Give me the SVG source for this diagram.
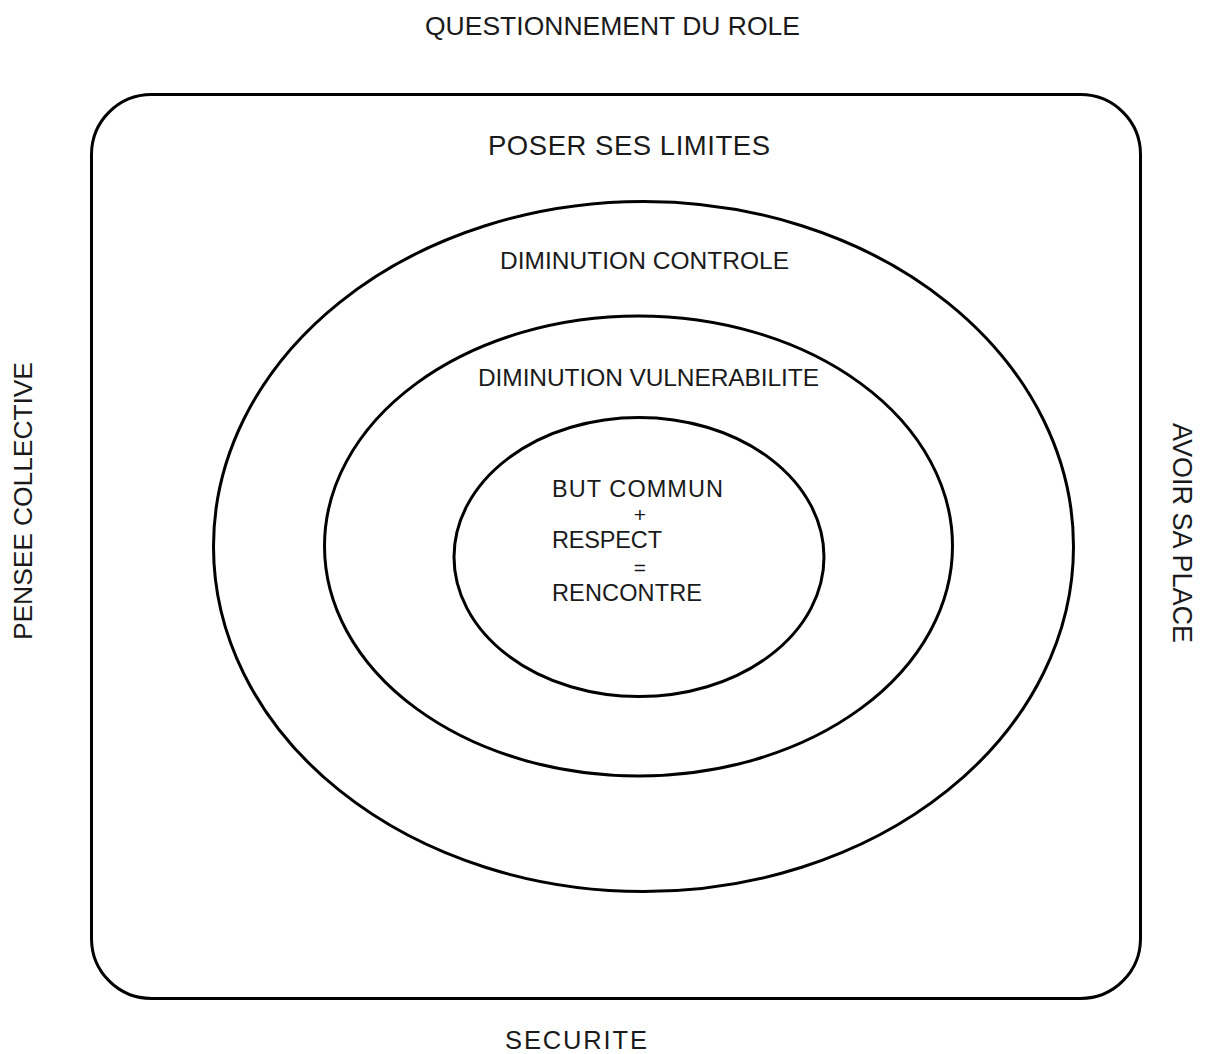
<svg xmlns="http://www.w3.org/2000/svg" width="1208" height="1054" viewBox="0 0 1208 1054">
<style>
.s{fill:none;stroke:#000;stroke-width:3}
text{font-family:"Liberation Sans",Arial,sans-serif;fill:#1a1a1a}
.c{font-size:23.5px}
.o{font-size:21px}
</style>
<rect width="1208" height="1054" fill="#fff"/>
<g id="frame">
<rect class="s" x="91.5" y="94.5" width="1049" height="904" rx="60" ry="60"/>
<text x="488" y="155" font-size="27.5" textLength="282">POSER SES LIMITES</text>
</g>
<g id="outer">
<ellipse class="s" cx="643.5" cy="546.5" rx="430" ry="345"/>
<text x="500" y="269" font-size="24.5" textLength="289">DIMINUTION CONTROLE</text>
</g>
<g id="middle">
<ellipse class="s" cx="638.5" cy="546" rx="314" ry="230"/>
<text x="478" y="386" font-size="24.5" textLength="341">DIMINUTION VULNERABILITE</text>
</g>
<g id="inner">
<ellipse class="s" cx="639" cy="557" rx="185" ry="139.5"/>
<text class="c" x="552" y="497" textLength="171">BUT COMMUN</text>
<text class="o" x="640" y="522" text-anchor="middle">+</text>
<text class="c" x="552" y="548" textLength="110">RESPECT</text>
<text class="o" x="640" y="575" text-anchor="middle">=</text>
<text class="c" x="552" y="601" textLength="150">RENCONTRE</text>
</g>
<g id="labels">
<text x="425" y="35" font-size="26.5" textLength="375">QUESTIONNEMENT DU ROLE</text>
<text x="505" y="1049" font-size="25.5" textLength="142">SECURITE</text>
<text transform="translate(32 640) rotate(-90)" font-size="26.5" textLength="278">PENSEE COLLECTIVE</text>
<text transform="translate(1173 423) rotate(90)" font-size="27" textLength="220">AVOIR SA PLACE</text>
</g>
<g id="connectors"/>
</svg>
